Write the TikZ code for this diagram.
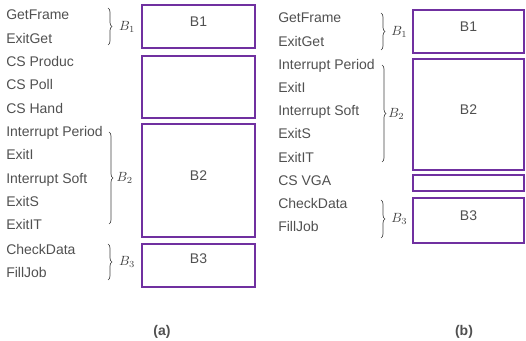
\documentclass[tikz,border=0pt]{standalone}
\usepackage{fontspec}
\setmainfont{Liberation Sans}
\usetikzlibrary{fit,decorations.pathreplacing}

\definecolor{boxpurple}{HTML}{7030A0}
\definecolor{txtgray}{HTML}{505050}

\tikzset{
  row/.style={anchor=west, inner sep=0pt, text height=7.5pt, text depth=0pt,
    text=txtgray, font=\fontsize{10.5}{12}\selectfont},
  blk/.style={draw=boxpurple, line width=1.5pt, inner sep=0pt,
    text height=7.5pt, text depth=0pt, text=txtgray, font=\fontsize{10.5}{12}\selectfont},
  brc/.style={decorate, decoration={brace, amplitude=3pt}, draw=black!75, line width=0.5pt},
  blab/.style={inner sep=0pt, text=black!75, font=\fontsize{10}{12}\selectfont},
  subcap/.style={inner sep=0pt, text=txtgray, font=\fontsize{10.5}{12}\selectfont\bfseries}
}

\begin{document}
\begin{tikzpicture}[x=0.75pt, y=-0.75pt]
  \useasboundingbox (0,0) rectangle (526,341);

  % (a)
  \foreach \t [count=\i from 0] in {GetFrame, ExitGet, CS Produc, CS Poll, CS Hand,
      Interrupt Period, ExitI, Interrupt Soft, ExitS, ExitIT}
    \node[row] (a\i) at (6, 15+23.3*\i) {\t};
  \node[row] (a10) at (6,250) {CheckData};
  \node[row] (a11) at (6,273) {FillJob};

  \node[blk, fit={(142,5) (255,48)}] (aB1) {B1};
  \node[blk, fit={(142,56) (255,118)}] (aCS) {};
  \node[blk, fit={(142,124) (255,237)}] (aB2) {B2};
  \node[blk, fit={(142,244) (255,287)}] (aB3) {};
  \node[row, anchor=center] (aB3t) at ([yshift=5pt]aB3.center) {B3};

  \draw[brc] (108,8) -- (108,45) node[blab, midway, right=8pt] (aL1) {$B_1$};
  \draw[brc] (109,132) -- (109,224) node[blab, midway, right=5.5pt] (aL2) {$B_2$};
  \draw[brc] (108,244) -- (108,280) node[blab, midway, right=8pt] (aL3) {$B_3$};

  \node[subcap] (capa) at (162,332) {(a)};

  % (b)
  \foreach \t [count=\i from 0] in {GetFrame, ExitGet, Interrupt Period, ExitI,
      Interrupt Soft, ExitS, ExitIT, CS VGA, CheckData, FillJob}
    \node[row] (b\i) at (278, 18+23.2*\i) {\t};

  \node[blk, fit={(413,10) (524,53)}] (bB1) {B1};
  \node[blk, fit={(413,59) (524,170)}] (bB2) {B2};
  \node[blk, fit={(413,175) (524,191)}] (bVGA) {};
  \node[blk, fit={(413,198) (524,243)}] (bB3) {B3};

  \draw[brc] (381,13) -- (381,50) node[blab, midway, right=7.5pt] (bL1) {$B_1$};
  \draw[brc] (382,65) -- (382,162) node[blab, midway, right=4.5pt] (bL2) {$B_2$};
  \draw[brc] (381,200) -- (381,238) node[blab, midway, right=7.5pt] (bL3) {$B_3$};

  \node[subcap] (capb) at (464,332) {(b)};
\end{tikzpicture}
\end{document}
